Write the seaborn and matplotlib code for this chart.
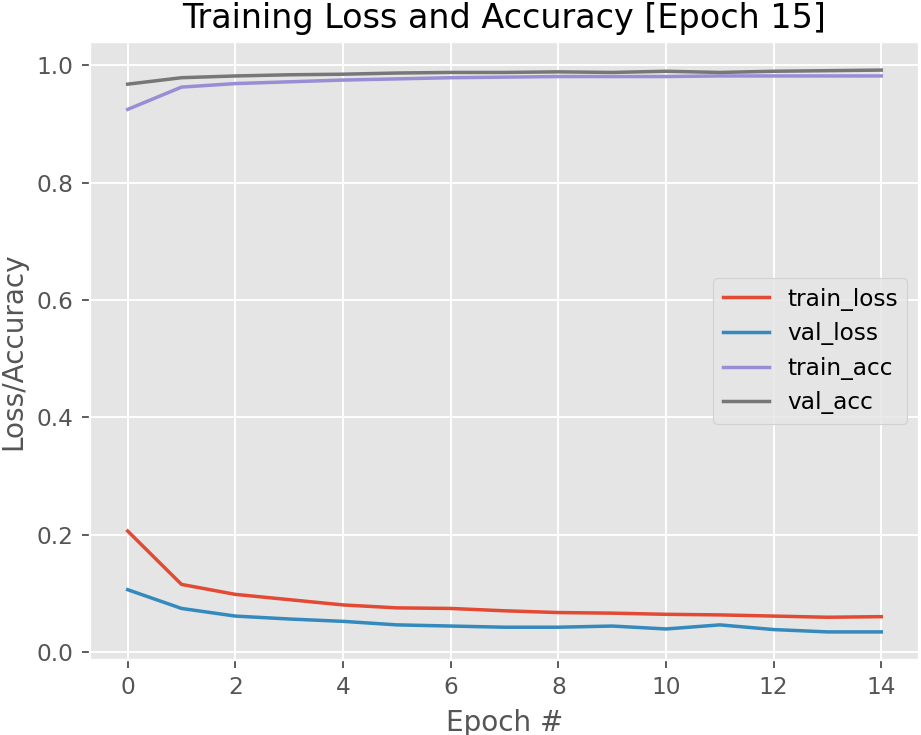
import numpy as np
import pandas as pd
import matplotlib
matplotlib.use("Agg")
import matplotlib.pyplot as plt
import seaborn as sns

# values
epochs = list(range(15))
train_loss = [0.206, 0.115, 0.098, 0.089, 0.080, 0.075, 0.074, 0.070, 0.067, 0.066,
              0.064, 0.063, 0.061, 0.059, 0.060]
val_loss = [0.106, 0.074, 0.061, 0.056, 0.052, 0.046, 0.044, 0.042, 0.042, 0.044,
            0.039, 0.046, 0.038, 0.034, 0.034]
train_acc = [0.925, 0.963, 0.969, 0.972, 0.975, 0.977, 0.979, 0.980, 0.981, 0.981,
             0.981, 0.982, 0.982, 0.982, 0.982]
val_acc = [0.968, 0.979, 0.982, 0.984, 0.985, 0.987, 0.988, 0.988, 0.989, 0.988,
           0.990, 0.988, 0.990, 0.991, 0.992]

series = {"train_loss": train_loss, "val_loss": val_loss,
          "train_acc": train_acc, "val_acc": val_acc}
colors = ["#E24A33", "#348ABD", "#988ED5", "#777777"]

plt.style.use("ggplot")
dpi = 167
fig = plt.figure(figsize=(921 / dpi, 735 / dpi), dpi=dpi)
ax = fig.add_axes([90 / 921, 75 / 735, 829 / 921, 618 / 735])

for (name, vals), c in zip(series.items(), colors):
    sns.lineplot(x=epochs, y=vals, ax=ax, color=c, label=name, linewidth=1.5)

ax.set_xticks(range(0, 15, 2))
ax.set_yticks(np.arange(0, 1.01, 0.2))
ax.set_title("Training Loss and Accuracy [Epoch 15]")
ax.set_xlabel("Epoch #")
ax.set_ylabel("Loss/Accuracy")
ax.legend(loc="center right")

fig.savefig("out.png", dpi=dpi)
